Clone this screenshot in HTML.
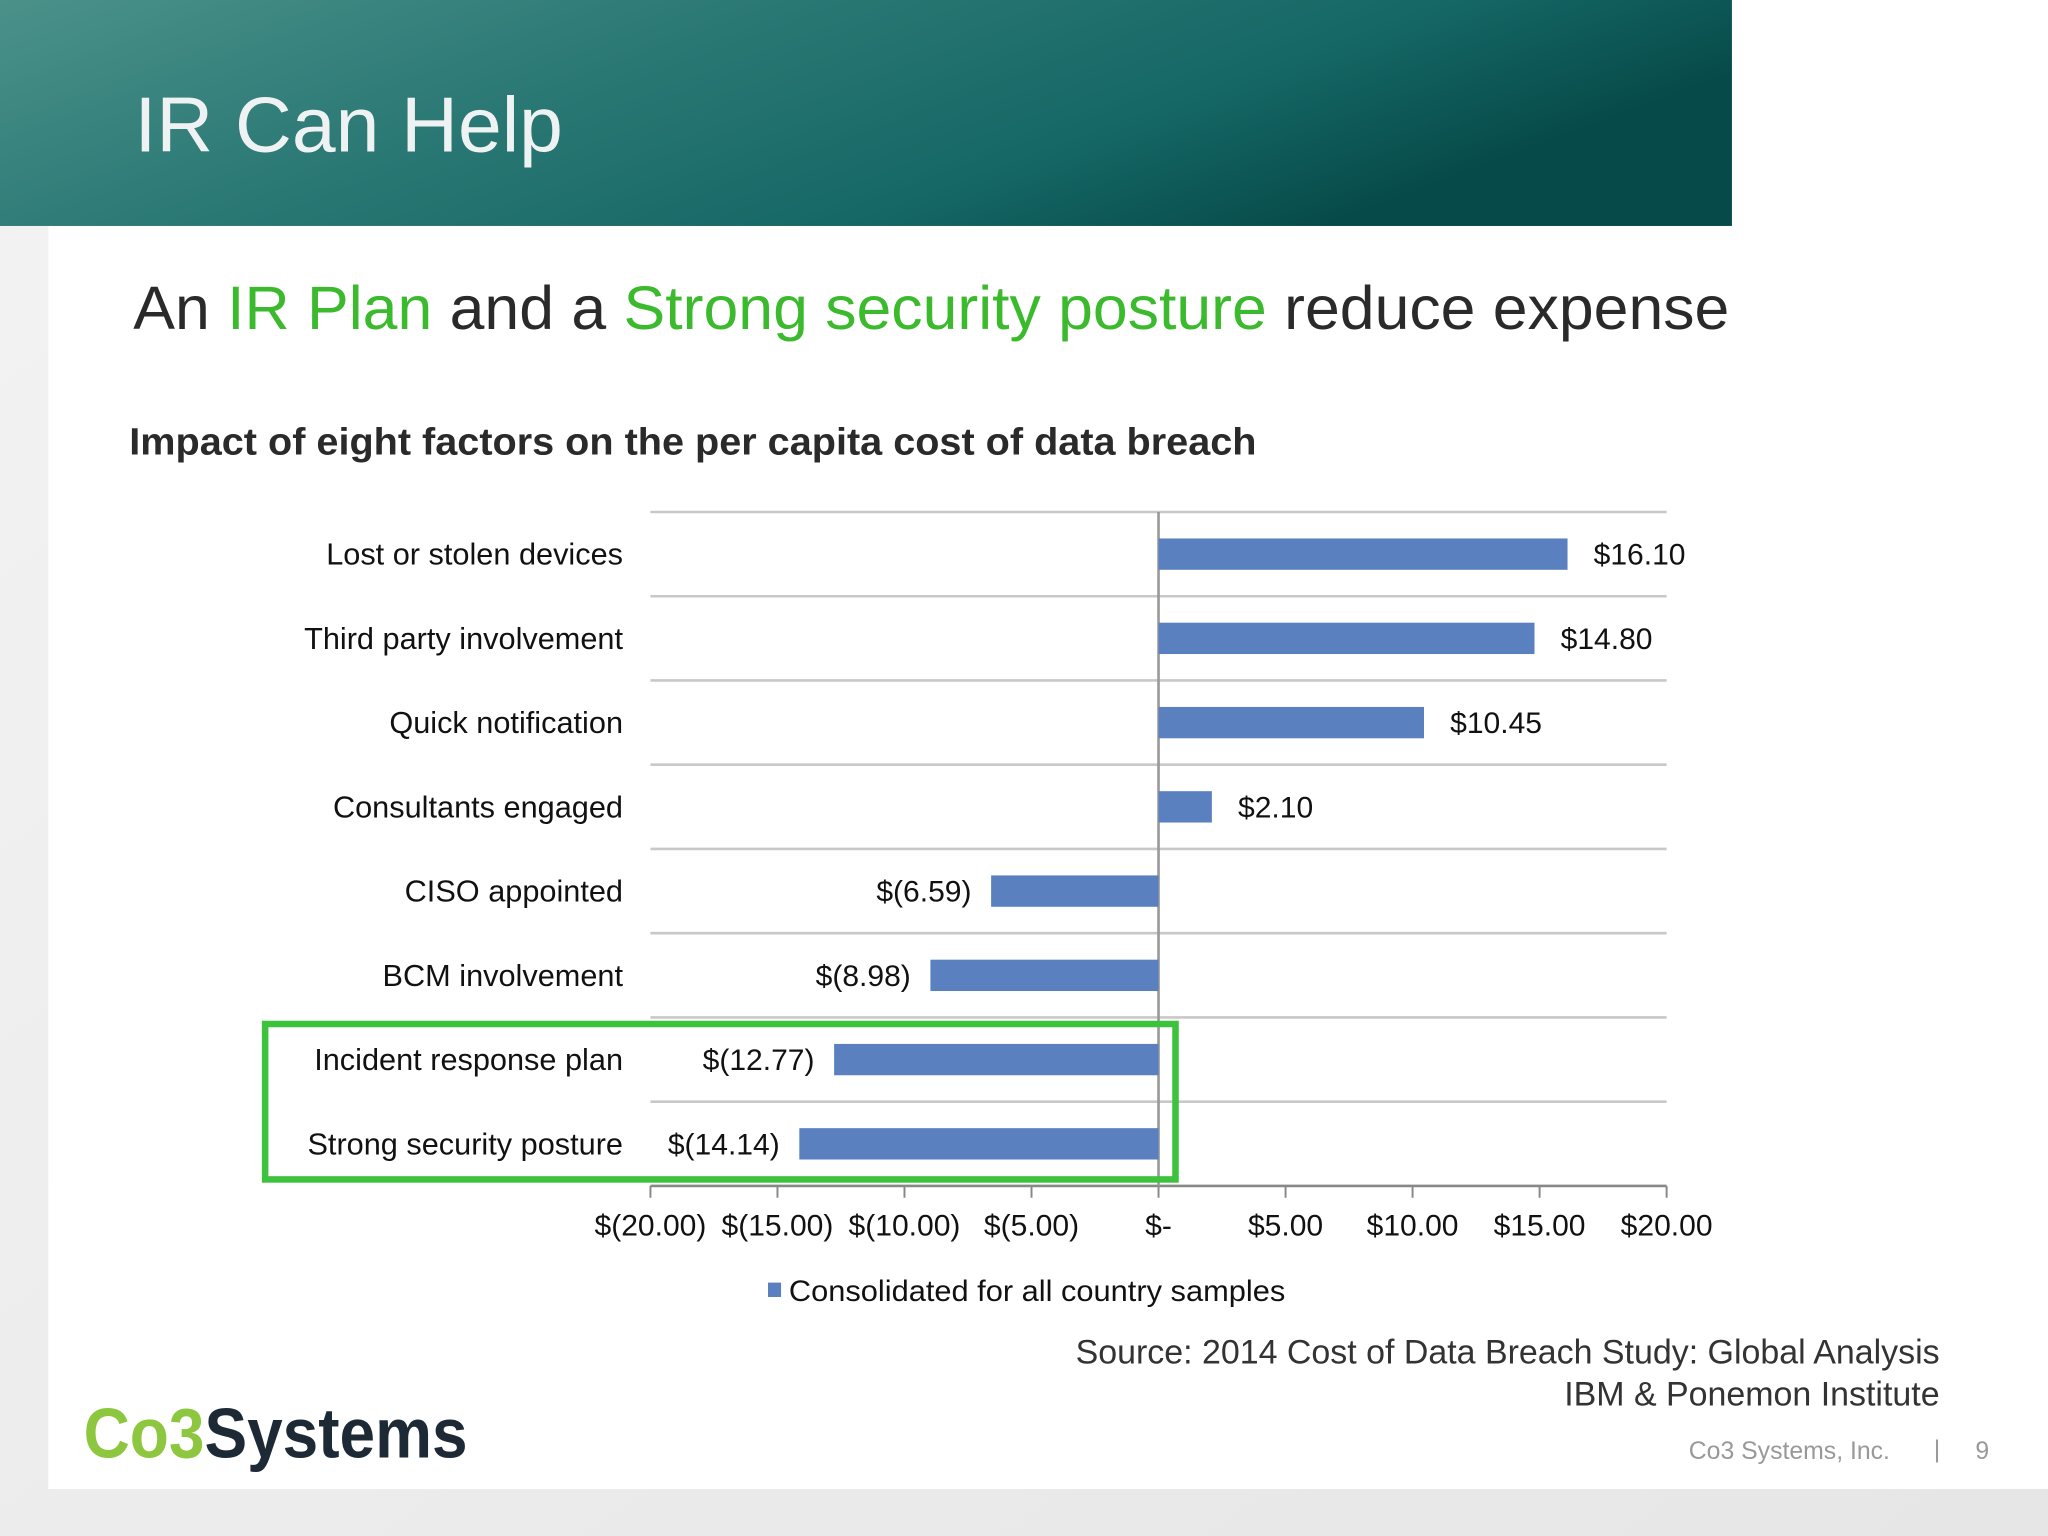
<!DOCTYPE html>
<html><head><meta charset="utf-8"><style>
html,body{margin:0;padding:0;width:2048px;height:1536px;overflow:hidden;background:#ececec}
svg{display:block}
text{font-family:"Liberation Sans",Arial,sans-serif}
</style></head><body>
<svg id="slide" width="2048" height="1536" viewBox="0 0 1568 1176" preserveAspectRatio="none" xmlns="http://www.w3.org/2000/svg">
<defs>
<linearGradient id="hdr" x1="0" y1="0" x2="1" y2="0.35">
<stop offset="0" stop-color="#4b918a"/><stop offset="0.35" stop-color="#2e7b77"/><stop offset="0.75" stop-color="#156765"/><stop offset="1" stop-color="#064a49"/>
</linearGradient>
<linearGradient id="bg" x1="0" y1="0" x2="1" y2="1">
<stop offset="0" stop-color="#f3f3f3"/><stop offset="1" stop-color="#e6e6e6"/>
</linearGradient>
</defs>
<rect x="0" y="0" width="1568" height="1176" fill="url(#bg)"/>
<rect x="37" y="173" width="1531" height="967" fill="#ffffff"/>
<rect x="1326" y="0" width="242" height="173" fill="#ffffff"/>
<rect x="0" y="0" width="1326" height="173" fill="url(#hdr)"/>
<text x="103" y="116" font-size="60" fill="#eef2f2" textLength="328" lengthAdjust="spacingAndGlyphs">IR Can Help</text>
<text x="102" y="252" font-size="47" fill="#2a2a2a" textLength="1222" lengthAdjust="spacingAndGlyphs">An <tspan fill="#3cba2e">IR Plan</tspan> and a <tspan fill="#3cba2e">Strong security posture</tspan> reduce expense</text>
<text x="99" y="348" font-size="29" font-weight="bold" fill="#2a2a2a" textLength="863" lengthAdjust="spacingAndGlyphs">Impact of eight factors on the per capita cost of data breach</text>
<g id="chart"></g>
<rect x="203" y="784" width="697" height="119" fill="none" stroke="#3cc23c" stroke-width="5"/>
<rect x="588" y="982" width="10" height="11" fill="#5b80c0"/>
<text x="604" y="996" font-size="23" fill="#111" textLength="380" lengthAdjust="spacingAndGlyphs">Consolidated for all country samples</text>
<text x="1485" y="1044" font-size="26" text-anchor="end" fill="#333">Source: 2014 Cost of Data Breach Study: Global Analysis</text>
<text x="1485" y="1076" font-size="26" text-anchor="end" fill="#333">IBM &amp; Ponemon Institute</text>
<text x="64" y="1116" font-size="54" font-weight="bold" fill="#1d2a35" textLength="294" lengthAdjust="spacingAndGlyphs"><tspan fill="#8dc63f">Co3</tspan>Systems</text>
<text x="1447" y="1117" font-size="19" text-anchor="end" fill="#999">Co3 Systems, Inc.</text>
<text x="1483" y="1116" font-size="19" text-anchor="middle" fill="#999">|</text>
<text x="1523" y="1117" font-size="19" text-anchor="end" fill="#999">9</text>
</svg>
<script>
const categories=["Lost or stolen devices","Third party involvement","Quick notification","Consultants engaged","CISO appointed","BCM involvement","Incident response plan","Strong security posture"];
const values=[16.10,14.80,10.45,2.10,-6.59,-8.98,-12.77,-14.14];
const valueLabels=["$16.10","$14.80","$10.45","$2.10","$(6.59)","$(8.98)","$(12.77)","$(14.14)"];
const ticks=[-20,-15,-10,-5,0,5,10,15,20];
const tickLabels=["$(20.00)","$(15.00)","$(10.00)","$(5.00)","$-","$5.00","$10.00","$15.00","$20.00"];
const NS="http://www.w3.org/2000/svg";
const g=document.getElementById('chart');
const X0=498,X1=1276,Y0=392,Y1=908;
const xs=v=>X0+(v+20)/40*(X1-X0);
const rowH=(Y1-Y0)/categories.length;
function mk(t,a){const e=document.createElementNS(NS,t);for(const k in a)e.setAttribute(k,a[k]);g.appendChild(e);return e;}
for(let i=0;i<=categories.length;i++){
  const y=Y0+i*rowH;
  const l=mk('line',{x1:X0,x2:X1,y1:y,y2:y,stroke:i==categories.length?'#888':'#c8c8c8','stroke-width':2});
  
  
}
const za=mk('line',{x1:xs(0),x2:xs(0),y1:Y0,y2:Y1,stroke:'#999','stroke-width':2});


ticks.forEach((t,i)=>{
  const x=xs(t);
  const tk=mk('line',{x1:x,x2:x,y1:Y1,y2:Y1+9,stroke:'#888','stroke-width':1.5});
  
  
  const tl=mk('text',{x:x,y:946,'font-size':23,'text-anchor':'middle',fill:'#111'});
  tl.textContent=tickLabels[i];
  
  
});
categories.forEach((c,i)=>{
  const cy=Y0+(i+0.5)*rowH;
  const cl=mk('text',{x:477,y:cy+8,'font-size':23.5,'text-anchor':'end',fill:'#111'});
  cl.textContent=c;
  
  
  const v=values[i];
  const a=xs(Math.min(0,v)),b=xs(Math.max(0,v));
  const r=mk('rect',{x:a,y:cy-12,width:b-a,height:24,fill:'#5b80c0'});
  
  
  const vl=mk('text',{x:v>=0?b+20:a-15,y:cy+8,'font-size':23,'text-anchor':v>=0?'start':'end',fill:'#111'});
  vl.textContent=valueLabels[i];
  
  
});
</script>
</body></html>
